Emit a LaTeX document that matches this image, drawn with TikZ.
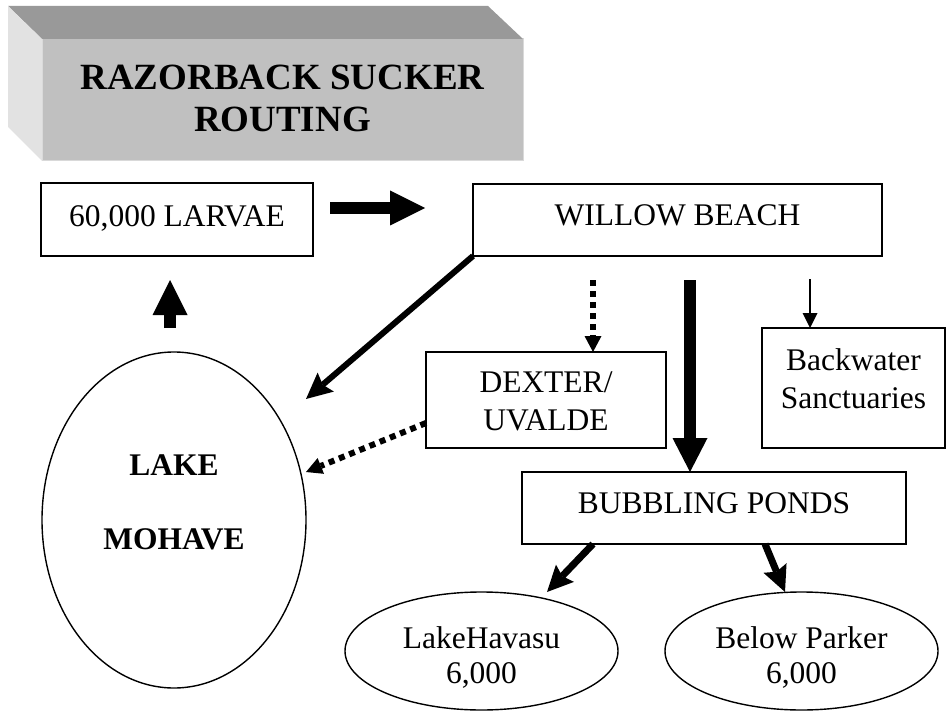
\documentclass[tikz,border=0pt]{standalone}
\usepackage{fontspec}
\setmainfont{Liberation Serif}
\usetikzlibrary{shapes.geometric,arrows.meta,calc}
\definecolor{topgray}{HTML}{999999}
\definecolor{frontgray}{HTML}{C0C0C0}
\definecolor{sidegray}{HTML}{E2E2E2}
% text lines placed with their first baseline at #1 from the node centre
\newcommand{\nodetxt}[2]{\raisebox{#1}[0pt][0pt]{\begin{tabular}[t]{@{}c@{}}#2\end{tabular}}}
\tikzset{
  box/.style={draw, line width=1.4pt, inner sep=0pt, outer sep=0pt, font=\fontsize{31.5}{38}\selectfont},
  pond/.style={box, ellipse},
  blockarrow/.style={line width=12pt, -{Triangle[length=35pt,width=35pt,line width=0pt]}},
  fatarrow/.style={line width=7pt, -{Stealth[length=26pt,width=25pt,inset=4pt,line width=0pt]}},
  dotarrow/.style={line width=6pt, dash pattern=on 6pt off 5pt, -{Triangle[length=16pt,width=17pt,line width=0pt]}},
  thinarrow/.style={line width=1.3pt, -{Triangle[length=15pt,width=15pt,line width=0pt]}}
}
\begin{document}
\begin{tikzpicture}[x=1pt,y=-1pt]
    \useasboundingbox (0,0) rectangle (947,711);
    % title block
    \node[fill=frontgray, draw=black!15, line width=1pt, inner sep=0pt, outer sep=0pt,
      minimum width=481pt, minimum height=122pt,
      font=\bfseries\fontsize{37}{42}\selectfont] (title) at (282.5,100) {\nodetxt{10.5pt}{RAZORBACK SUCKER\\ROUTING}};
    \fill[topgray] (8,6)--(488,6)--(title.north east)--(title.north west)--cycle;
    \fill[sidegray] (8,6)--(title.north west)--(title.south west)--(8,127)--cycle;
    % places
    \node[box, minimum width=272pt, minimum height=73pt] (larvae) at (177,219.5) {\nodetxt{-6.9pt}{60,000 LARVAE}};
    \node[box, minimum width=409pt, minimum height=72pt] (willow) at (677.5,220) {\nodetxt{-5.4pt}{WILLOW BEACH}};
    \node[box, minimum width=240pt, minimum height=96pt] (dexter) at (546,400) {\nodetxt{7.6pt}{DEXTER/\\UVALDE}};
    \node[box, minimum width=183pt, minimum height=120pt] (backwater) at (853.5,388) {\nodetxt{17.6pt}{Backwater\\Sanctuaries}};
    \node[box, minimum width=384pt, minimum height=72pt] (bubbling) at (714,508) {\nodetxt{-5.4pt}{BUBBLING PONDS}};
    \node[pond, minimum width=264pt, minimum height=336pt, font=\bfseries\fontsize{31.5}{74}\selectfont] (mohave) at (174,520) {\nodetxt{44.4pt}{LAKE\\MOHAVE}};
    \node[pond, minimum width=273pt, minimum height=118pt, font=\fontsize{31.5}{35}\selectfont] (havasu) at (481.5,651) {\nodetxt{2.6pt}{LakeHavasu\\6,000}};
    \node[pond, minimum width=273pt, minimum height=118pt, font=\fontsize{31.5}{35}\selectfont] (parker) at (801.5,651) {\nodetxt{2.6pt}{Below Parker\\6,000}};
    % routes
    \draw[blockarrow] ($(larvae.east)+(17,-11.5)$) -- ($(willow.west)+(-48,-12)$);
    \draw[blockarrow] ($(mohave.north)+(-4,-24)$) -- ($(larvae.south)+(-7,24)$);
    \draw[fatarrow, line width=6pt] (willow.south west) -- ($(mohave.east)+(0,-121)$);
    \draw[dotarrow] ($(willow.south)+(-84.5,24)$) -- ($(dexter.north)+(47,0)$);
    \draw[dotarrow] ($(dexter.west)+(0,23)$) -- ($(mohave.east)+(0,-48)$);
    \draw[line width=11.5pt, -{Triangle[length=34pt,width=35pt,line width=0pt]}] ($(willow.south)+(12.5,24)$) -- ($(bubbling.north)+(-24,0)$);
    \draw[thinarrow] ($(willow.south)+(132.5,23)$) -- ($(backwater.north)+(-43.5,0)$);
    \draw[fatarrow] ($(bubbling.south)+(-121,0)$) -- ($(havasu.north)+(65.5,0)$);
    \draw[fatarrow] ($(bubbling.south)+(51,0)$) -- ($(parker.north)+(-16.5,0)$);
\end{tikzpicture}
\end{document}
